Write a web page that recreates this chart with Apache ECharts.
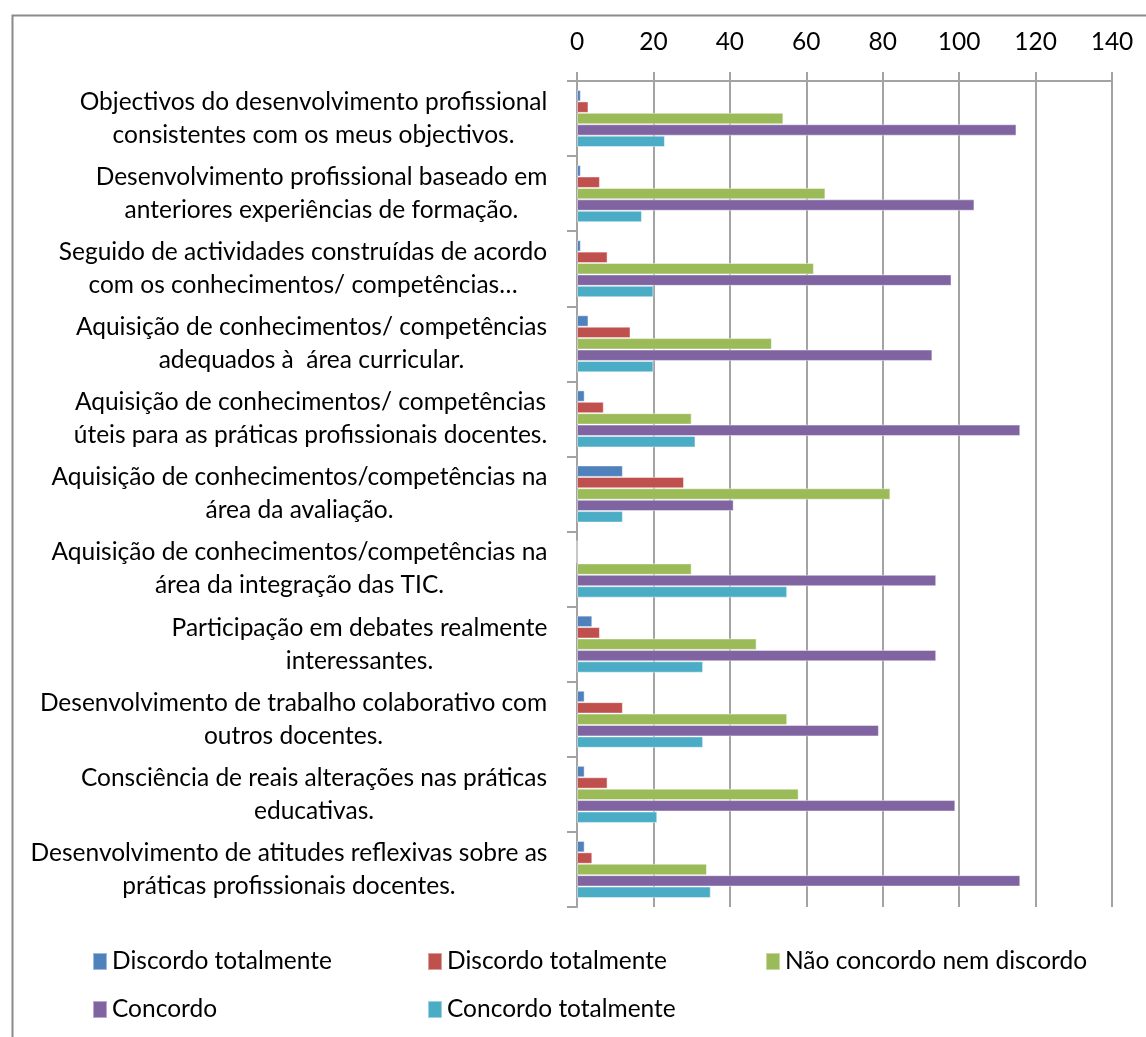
<!DOCTYPE html>
<html>
<head>
<meta charset="utf-8">
<script src="https://cdn.jsdelivr.net/npm/echarts@6/dist/echarts.min.js"></script>
<style>
html,body{margin:0;padding:0;background:#fff;}
#chart{width:1146px;height:1037px;}
</style>
</head>
<body>
<div id="chart"></div>
<script>
// ---- data ----
var categories = [
  "Objectivos do desenvolvimento profissional\nconsistentes com os meus objectivos.",
  "Desenvolvimento profissional baseado em\nanteriores experiências de formação.",
  "Seguido de actividades construídas de acordo\ncom os conhecimentos/ competências…",
  "Aquisição de conhecimentos/ competências\nadequados à  área curricular.",
  "Aquisição de conhecimentos/ competências\núteis para as práticas profissionais docentes.",
  "Aquisição de conhecimentos/competências na\nárea da avaliação.",
  "Aquisição de conhecimentos/competências na\nárea da integração das TIC.",
  "Participação em debates realmente\ninteressantes.",
  "Desenvolvimento de trabalho colaborativo com\noutros docentes.",
  "Consciência de reais alterações nas práticas\neducativas.",
  "Desenvolvimento de atitudes reflexivas sobre as\npráticas profissionais docentes."
];
var seriesNames = ["Discordo totalmente", "Discordo totalmente ", "Não concordo nem discordo", "Concordo", "Concordo totalmente"];
var discordoTotalmente1 = [1, 1, 1, 3, 2, 12, 0, 4, 2, 2, 2];
var discordoTotalmente2 = [3, 6, 8, 14, 7, 28, 0, 6, 12, 8, 4];
var naoConcordoNemDiscordo = [54, 65, 62, 51, 30, 82, 30, 47, 55, 58, 34];
var concordo = [115, 104, 98, 93, 116, 41, 94, 94, 79, 99, 116];
var concordoTotalmente = [23, 17, 20, 20, 31, 12, 55, 33, 33, 21, 35];
var xTicks = [0, 20, 40, 60, 80, 100, 120, 140];

// ---- presentation ----
var colors = ["#4F81BD", "#C0504D", "#9BBB59", "#8064A2", "#4BACC6"];
var FONT = "Lato";
var FS = 24.5;
var TXT = "#000";
var GRID = "#a3a3a3";

var cv = document.createElement("canvas").getContext("2d");
cv.font = FS + "px " + FONT;
var rich = {};
categories.forEach(function (c, i) {
  var w = 0;
  c.split("\n").forEach(function (l) { w = Math.max(w, cv.measureText(l).width); });
  rich["c" + i] = { width: Math.ceil(w) + 1, align: "center", fontSize: FS, fontFamily: FONT, color: TXT, lineHeight: 33 };
});

var allData = [discordoTotalmente1, discordoTotalmente2, naoConcordoNemDiscordo, concordo, concordoTotalmente];
var series = allData.map(function (d, i) {
  return {
    name: seriesNames[i],
    type: "bar",
    data: d,
    barGap: "0%",
    barCategoryGap: "24%",
    itemStyle: { color: colors[i], borderColor: "rgba(255,255,255,0.45)", borderWidth: 1 },
    emphasis: { disabled: true },
    animation: false
  };
});

var legendPos = [[92, 949], [427, 949], [765, 949], [92, 997], [427, 997]];
var legends = seriesNames.map(function (n, i) {
  return {
    data: [n],
    left: legendPos[i][0],
    top: legendPos[i][1],
    padding: 0,
    icon: "rect",
    itemWidth: 14,
    itemHeight: 17,
    itemGap: 0,
    selectedMode: false,
    textStyle: { fontFamily: FONT, fontSize: FS, color: TXT }
  };
});

var chart = echarts.init(document.getElementById("chart"), null, { renderer: "canvas" });
chart.setOption({
  backgroundColor: "#fff",
  animation: false,
  color: colors,
  textStyle: { fontFamily: FONT },
  legend: legends,
  grid: { left: 577, right: 34, top: 81, bottom: 130, containLabel: false },
  xAxis: {
    type: "value",
    position: "top",
    min: xTicks[0],
    max: xTicks[xTicks.length - 1],
    interval: xTicks[1] - xTicks[0],
    axisLine: { show: true, lineStyle: { color: GRID, width: 2 } },
    axisTick: { show: true, length: 9, lineStyle: { color: GRID, width: 2 } },
    splitLine: { show: true, lineStyle: { color: GRID, width: 2 } },
    axisLabel: { fontSize: FS, fontFamily: FONT, color: TXT, margin: 26 }
  },
  yAxis: {
    type: "category",
    inverse: true,
    data: categories,
    axisLine: { show: true, lineStyle: { color: GRID, width: 2 } },
    axisTick: { show: true, length: 10, lineStyle: { color: GRID, width: 2 } },
    axisLabel: {
      margin: 29,
      align: "right",
      formatter: function (v, i) {
        return v.split("\n").map(function (l) { return "{c" + i + "|" + l + "}"; }).join("\n");
      },
      rich: rich
    }
  },
  graphic: [{
    type: "rect",
    left: 10, top: 13,
    shape: { x: 0, y: 0, width: 1200, height: 1100 },
    style: { fill: null, stroke: "#8a8a8a", lineWidth: 2 },
    silent: true,
    z: -1
  }],
  series: series
});
</script>
</body>
</html>
